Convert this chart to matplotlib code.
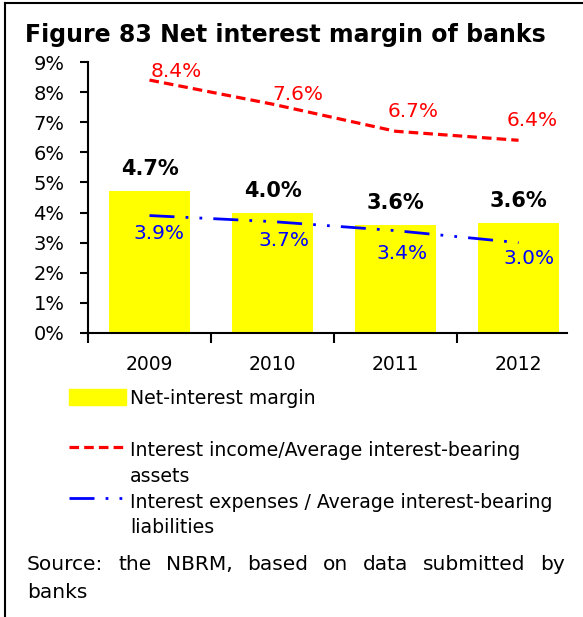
import matplotlib
matplotlib.use('Agg')
import matplotlib.pyplot as plt
from matplotlib.lines import Line2D
from matplotlib.patches import Rectangle
from matplotlib.ticker import FuncFormatter

plt.rcParams['font.family'] = ['DejaVu Sans']

# Datos
years = ['2009', '2010', '2011', '2012']
net_margin = [4.7, 4.0, 3.59, 3.64]
income_ratio = [8.4, 7.6, 6.7, 6.4]
expense_ratio = [3.9, 3.7, 3.4, 3.0]

title = 'Figure 83 Net interest margin of banks'
legend_labels = ['Net-interest margin',
                 'Interest income/Average interest-bearing\nassets',
                 'Interest expenses / Average interest-bearing\nliabilities']
source_line1 = 'Source: the NBRM, based on data submitted by'
source_line2 = 'banks'

# desplazamientos de etiquetas (pixeles)
red_off = [(27, 9), (25, 10), (18, 20), (14, 20)]
blue_off = [(9, -18), (11, -19), (6, -23), (10, -16)]

W, H = 583, 617
fig = plt.figure(figsize=(W / 100, H / 100), dpi=100)


def fx(x):
    return x / W


def fy(y):
    return 1 - y / H


ax = fig.add_axes([fx(88), fy(333), fx(567) - fx(88), fy(62) - fy(333)])
x = list(range(len(years)))

ax.bar(x, net_margin, width=0.66, color='#ffff00', zorder=1)
red_ls = (0, (3, 1.6))
blue_ls = (0, (9, 4, 1, 4, 1, 4))
ax.plot(x, income_ratio, color='#ff0000', lw=2.3, ls=red_ls, zorder=3)
ax.plot(x, expense_ratio, color='#0000ff', lw=2.0, ls=blue_ls, zorder=3)

for i, v in enumerate(net_margin):
    ax.annotate(f'{v:.1f}%', (i, v), xytext=(0, 22), textcoords='offset pixels',
                ha='center', va='center', fontsize=15, fontweight='bold', color='black')
for i, v in enumerate(income_ratio):
    ax.annotate(f'{v:.1f}%', (i, v), xytext=red_off[i], textcoords='offset pixels',
                ha='center', va='center', fontsize=14.5, color='#ff0000')
for i, v in enumerate(expense_ratio):
    ax.annotate(f'{v:.1f}%', (i, v), xytext=blue_off[i], textcoords='offset pixels',
                ha='center', va='center', fontsize=14.5, color='#0000ff')

ax.set_xlim(-0.5, 3.394)
ax.set_ylim(0, 9)
ax.set_yticks(range(0, 10))
ax.yaxis.set_major_formatter(FuncFormatter(lambda v, p: f'{v:.0f}%'))
ax.set_xticks([-0.5, 0.5, 1.5, 2.5])
ax.set_xticklabels([])
ax.set_xticks(x, minor=True)
ax.set_xticklabels(years, minor=True)
ax.tick_params(axis='x', which='minor', length=0, pad=16, labelsize=13.5)
ax.tick_params(axis='x', which='major', length=7, width=1.5, direction='out')
ax.tick_params(axis='y', length=6, width=1.5, direction='out', pad=11, labelsize=14)
for s in ['top', 'right']:
    ax.spines[s].set_visible(False)
for s in ['left', 'bottom']:
    ax.spines[s].set_linewidth(1.5)

# Titulo
fig.text(fx(25), fy(42), title, fontsize=17, fontweight='bold', ha='left', va='baseline')

# Leyenda manual
fig.add_artist(Rectangle((fx(69), fy(405)), fx(126) - fx(69), fy(389) - fy(405),
                         transform=fig.transFigure, color='#ffff00'))
fig.add_artist(Line2D([fx(69), fx(126)], [fy(447), fy(447)], transform=fig.transFigure,
                      color='#ff0000', lw=2.3, ls=red_ls))
fig.add_artist(Line2D([fx(69), fx(126)], [fy(498), fy(498)], transform=fig.transFigure,
                      color='#0000ff', lw=2.0, ls=blue_ls))
baselines = [[404], [456, 482], [508, 533]]
for lab, bl in zip(legend_labels, baselines):
    for line, b in zip(lab.split('\n'), bl):
        fig.text(fx(130), fy(b), line, fontsize=13.6, ha='left', va='baseline')

# Fuente justificada
fig.canvas.draw()
renderer = fig.canvas.get_renderer()
words = source_line1.split(' ')
arts = [fig.text(0, fy(570), w, fontsize=14.5, ha='left', va='baseline') for w in words]
widths = [a.get_window_extent(renderer).width for a in arts]
gap = (565 - 27 - sum(widths)) / (len(words) - 1)
pos = 27
for a, w in zip(arts, widths):
    a.set_x(fx(pos))
    pos += w + gap
fig.text(fx(27), fy(598), source_line2, fontsize=14.5, ha='left', va='baseline')

# Marco
fig.add_artist(Line2D([fx(5), fx(583)], [fy(3), fy(3)], transform=fig.transFigure, color='black', lw=1.5))
fig.add_artist(Line2D([fx(5), fx(5)], [fy(3), fy(617)], transform=fig.transFigure, color='black', lw=1.5))

fig.savefig('out.png', dpi=100)
